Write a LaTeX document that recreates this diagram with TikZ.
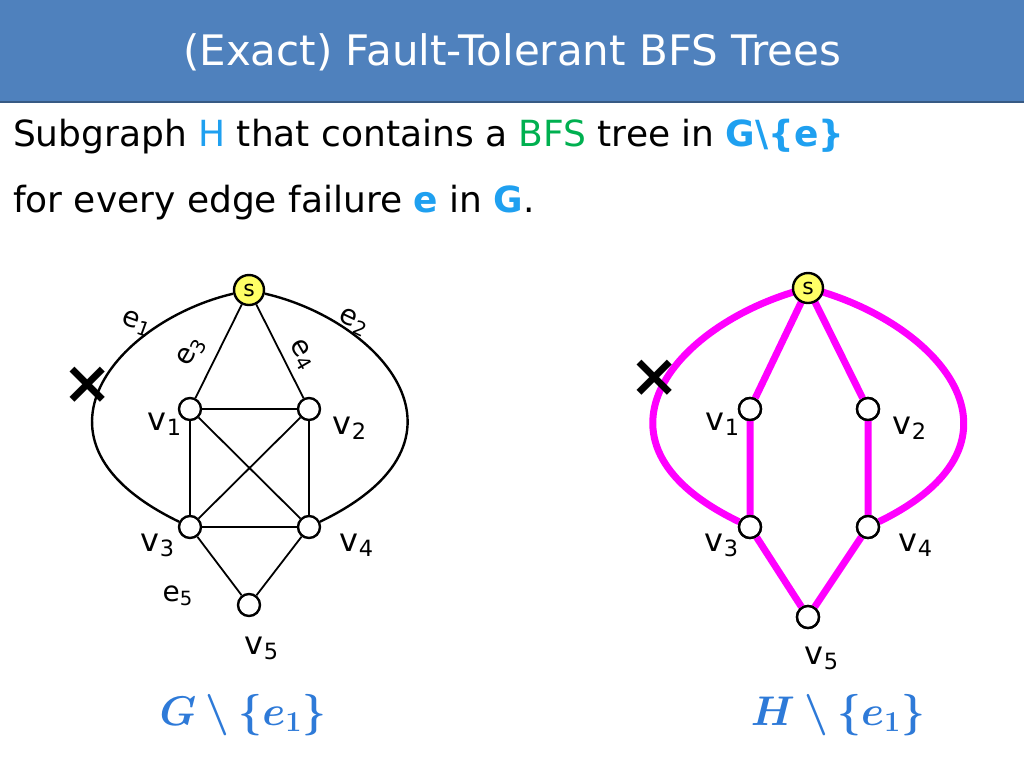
\documentclass[tikz,border=0pt]{standalone}
\usepackage{amsmath}
\usepackage{bm}
\usepackage{fontspec}
\setmainfont{DejaVu Sans}
\usetikzlibrary{positioning,calc}
\definecolor{titleblue}{HTML}{4F81BD}
\definecolor{hblue}{HTML}{1FA0F0}
\definecolor{bfsgreen}{HTML}{00B050}
\definecolor{fblue}{HTML}{2E7AD8}
\definecolor{sfill}{HTML}{FFFF66}
\definecolor{hpink}{HTML}{FF00FF}
\tikzset{
  vtx/.style={circle,draw,line width=1.2pt,fill=white,minimum size=11pt,inner sep=0pt},
  src/.style={vtx,fill=sfill,minimum size=15pt,font=\fontsize{11}{11}\selectfont},
  lbl/.style={font=\fontsize{16}{16}\selectfont,inner sep=0pt},
  elbl/.style={font=\fontsize{14}{14}\selectfont,inner sep=0pt},
  hedge/.style={hpink,line width=3.5pt},
  gedge/.style={black,line width=0.9pt}
}
\newcommand{\ee}[1]{e\textsubscript{#1}}
\newcommand{\vv}[1]{v\textsubscript{#1}}
\begin{document}
\begin{tikzpicture}[x=0.5pt,y=-0.5pt]
  \useasboundingbox (0,0) rectangle (1024,768);
  % title
  \fill[titleblue] (0,0) rectangle (1024,102);
  \draw[titleblue!70!black,line width=1pt] (0,102) -- (1024,102);
  \node[white,font=\fontsize{21}{21}\selectfont] (title) at (512,52) {(Exact) Fault-Tolerant BFS Trees};
  \node[anchor=west,font=\fontsize{18}{18}\selectfont] (line1) at (6,137)
    {Subgraph \textcolor{hblue}{H} that contains a \textcolor{bfsgreen}{BFS} tree in \textcolor{hblue}{\bfseries G\textbackslash\{e\}}};
  \node[anchor=west,font=\fontsize{18}{18}\selectfont] (line2) at (6,203)
    {for every edge failure \textcolor{hblue}{\bfseries e} in \textcolor{hblue}{\bfseries G}.};
  % left graph
  \node[src] (s) at (249,290) {s};
  \node[vtx] (v1) at (190,409) {};
  \node[vtx] (v2) at (309,409) {};
  \node[vtx] (v3) at (190,527) {};
  \node[vtx] (v4) at (309,527) {};
  \node[vtx] (v5) at (249,605) {};
  \draw[gedge] (s) -- (v1) (s) -- (v2) (v1) -- (v2) (v1) -- (v3) (v2) -- (v4)
    (v3) -- (v4) (v1) -- (v4) (v2) -- (v3) (v3) -- (v5) (v4) -- (v5);
  \draw[gedge,line width=1.2pt] (s) .. controls (120,320) and (10,440) .. (v3);
  \draw[gedge,line width=1.2pt] (s) .. controls (380,320) and (490,440) .. (v4);
  \node[elbl,rotate=-20] (le1) at (137,323) {\ee{1}};
  \node[elbl,rotate=-25] (le2) at (354,322) {\ee{2}};
  \node[elbl,rotate=60] (le3) at (192,352) {\ee{3}};
  \node[elbl,rotate=-60] (le4) at (302,355) {\ee{4}};
  \node[elbl] (le5) at (178,596) {\ee{5}};
  \node[lbl] (lv1) at (165,424) {\vv{1}};
  \node[lbl] (lv2) at (350,428) {\vv{2}};
  \node[lbl] (lv3) at (158,545) {\vv{3}};
  \node[lbl] (lv4) at (357,545) {\vv{4}};
  \node[lbl] (lv5) at (262,648) {\vv{5}};
  \node[font=\fontsize{30}{30}\bfseries\selectfont,inner sep=0pt] (xl) at (88,385) {×};
  % right graph
  \coordinate (hs0) at (808,288);
  \node[vtx] (h1) at (750,409) {};
  \node[vtx] (h2) at (868,409) {};
  \node[vtx] (h3) at (750,527) {};
  \node[vtx] (h4) at (868,527) {};
  \node[vtx] (h5) at (808,617) {};
  \draw[hedge] (hs0) -- (h1) (hs0) -- (h2) (h1) -- (h3) (h2) -- (h4) (h3) -- (h5) (h4) -- (h5);
  \draw[hedge] (hs0) .. controls (680,320) and (570,440) .. (h3);
  \draw[hedge] (hs0) .. controls (936,320) and (1046,440) .. (h4);
  \node[src] (hs) at (hs0) {s};
  \foreach \n in {h1,h2,h3,h4,h5} \node[vtx] at (\n) {};
  \node[lbl] (lh1) at (723,424) {\vv{1}};
  \node[lbl] (lh2) at (910,428) {\vv{2}};
  \node[lbl] (lh3) at (722,545) {\vv{3}};
  \node[lbl] (lh4) at (916,545) {\vv{4}};
  \node[lbl] (lh5) at (822,658) {\vv{5}};
  \node[font=\fontsize{30}{30}\bfseries\selectfont,inner sep=0pt] (xr) at (655,378) {×};
  % captions
  \node[fblue,font=\fontsize{22}{22}\selectfont] (capg) at (243,715) {$\bm{G\setminus\{e_1\}}$};
  \node[fblue,font=\fontsize{22}{22}\selectfont] (caph) at (838,715) {$\bm{H\setminus\{e_1\}}$};
\end{tikzpicture}
\end{document}
